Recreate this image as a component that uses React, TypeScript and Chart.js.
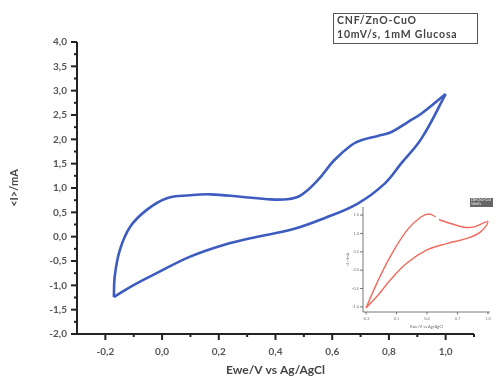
import React, { useEffect, useRef } from 'react';
import { Chart, registerables } from 'chart.js';
Chart.register(...registerables);

// ---- main cyclic voltammogram (blue) ----
const forwardE = [-0.17, -0.167, -0.149, -0.113, -0.054, 0.017, 0.099, 0.17, 0.277, 0.371, 0.442, 0.489, 0.549, 0.607, 0.667, 0.702, 0.761, 0.809, 0.868, 0.915, 1.0];
const forwardI = [-1.24, -0.82, -0.275, 0.2, 0.55, 0.79, 0.85, 0.87, 0.82, 0.77, 0.77, 0.85, 1.16, 1.57, 1.88, 1.98, 2.07, 2.15, 2.36, 2.53, 2.93];
const reverseE = [1.0, 0.915, 0.844, 0.785, 0.69, 0.572, 0.454, 0.336, 0.217, 0.099, -0.019, -0.102, -0.17];
const reverseI = [2.93, 2.02, 1.51, 1.09, 0.68, 0.38, 0.14, 0.0, -0.17, -0.41, -0.75, -1.0, -1.24];

const xTicks = [-0.2, 0.0, 0.2, 0.4, 0.6, 0.8, 1.0];
const xMinorTicks = [-0.1, 0.1, 0.3, 0.5, 0.7, 0.9, 1.1];
const yTicks = [-2.0, -1.5, -1.0, -0.5, 0.0, 0.5, 1.0, 1.5, 2.0, 2.5, 3.0, 3.5, 4.0];
const yMinorTicks = [-1.75, -1.25, -0.75, -0.25, 0.25, 0.75, 1.25, 1.75, 2.25, 2.75, 3.25, 3.75];

const legendLines = ['CNF/ZnO-CuO', '10mV/s, 1mM Glucosa'];
const xTitle = 'Ewe/V vs Ag/AgCl';
const yTitle = '<I>/mA';

// ---- inset (red) ----
const insetE = [-0.2, -0.094, 0.038, 0.204, 0.336, 0.418, 0.485, 0.5, 0.517, 0.633, 0.765, 0.864, 0.997, 0.93, 0.8, 0.6, 0.4, 0.2, 0.038, -0.094, -0.2];
const insetI = [-1.03, -0.36, 0.37, 1.09, 1.44, 1.53, 1.45, null, 1.38, 1.27, 1.17, 1.18, 1.32, 1.05, 0.87, 0.73, 0.55, 0.19, -0.27, -0.72, -1.03];
const insetXTicks = [-0.2, 0.1, 0.4, 0.7, 1.0];
const insetYTicks = [-1.0, -0.5, 0.0, 0.5, 1.0, 1.5];
const insetLegend = ['CNF/ZnO-CuO', '10mV/s'];

const FONT = 'Lato, "Open Sans", sans-serif';
const BLUE = '#3d5cc0';
const RED = '#f06a5c';

const toPts = (xs: number[], ys: (number | null)[]) => xs.map((x, i) => ({ x, y: ys[i] }));
const comma = (v: number) => v.toFixed(1).replace('.', ',');

const mainAxes = {
  id: 'mainAxes',
  afterDraw(chart: any) {
    const { ctx, chartArea: a, scales } = chart;
    const x = scales.x, y = scales.y;
    ctx.save();
    ctx.strokeStyle = '#222';
    ctx.lineWidth = 2;
    ctx.beginPath();
    ctx.moveTo(a.left, a.top);
    ctx.lineTo(a.left, a.bottom);
    ctx.lineTo(a.right, a.bottom);
    ctx.stroke();
    ctx.lineWidth = 2;
    const tk = (px: number, py: number, qx: number, qy: number) => {
      ctx.beginPath(); ctx.moveTo(px, py); ctx.lineTo(qx, qy); ctx.stroke();
    };
    yTicks.forEach(v => { const p = y.getPixelForValue(v); tk(a.left, p, a.left - 6, p); });
    yMinorTicks.forEach(v => { const p = y.getPixelForValue(v); tk(a.left, p, a.left - 3, p); });
    xTicks.forEach(v => { const p = x.getPixelForValue(v); tk(p, a.bottom, p, a.bottom + 6); });
    xMinorTicks.forEach(v => { const p = x.getPixelForValue(v); tk(p, a.bottom, p, a.bottom + 3); });
    // legend box
    ctx.lineWidth = 1;
    ctx.strokeStyle = '#555';
    ctx.strokeRect(333.5, 13.5, 144, 30);
    ctx.fillStyle = '#444';
    ctx.font = `bold 10.5px ${FONT}`;
    (ctx as any).letterSpacing = '0.8px';
    ctx.textBaseline = 'middle';
    ctx.textAlign = 'left';
    ctx.fillText(legendLines[0], 337, 21);
    ctx.fillText(legendLines[1], 337, 35);
    ctx.restore();
  },
};

const insetAxes = {
  id: 'insetAxes',
  afterDraw(chart: any) {
    const { ctx, chartArea: a, scales } = chart;
    const x = scales.x, y = scales.y;
    ctx.save();
    ctx.strokeStyle = '#555';
    ctx.lineWidth = 0.8;
    ctx.beginPath();
    ctx.moveTo(a.left, a.top);
    ctx.lineTo(a.left, a.bottom);
    ctx.lineTo(a.right, a.bottom);
    ctx.stroke();
    insetYTicks.forEach(v => { const p = y.getPixelForValue(v); ctx.beginPath(); ctx.moveTo(a.left, p); ctx.lineTo(a.left - 3, p); ctx.stroke(); });
    insetXTicks.forEach(v => { const p = x.getPixelForValue(v); ctx.beginPath(); ctx.moveTo(p, a.bottom); ctx.lineTo(p, a.bottom + 2.5); ctx.stroke(); });
    // legend chip
    ctx.fillStyle = '#666';
    ctx.fillRect(135, 3, 23, 9);
    ctx.fillStyle = '#fff';
    ctx.font = `3px ${FONT}`;
    ctx.textBaseline = 'middle';
    ctx.fillText(insetLegend[0], 136, 5.5);
    ctx.fillText(insetLegend[1], 136, 9.5);
    ctx.restore();
  },
};

export default function App() {
  const mainRef = useRef<HTMLCanvasElement>(null);
  const insetRef = useRef<HTMLCanvasElement>(null);

  useEffect(() => {
    const main = new Chart(mainRef.current!, {
      type: 'scatter',
      data: {
        datasets: [
          { data: toPts(forwardE, forwardI), showLine: true, borderColor: BLUE, borderWidth: 2.6, pointRadius: 0, tension: 0.4, fill: false },
          { data: toPts(reverseE, reverseI), showLine: true, borderColor: BLUE, borderWidth: 2.6, pointRadius: 0, tension: 0.4, fill: false },
        ],
      },
      options: {
        responsive: false,
        animation: false,
        layout: { padding: { left: 0, top: 42, right: 22, bottom: 0 } },
        plugins: { legend: { display: false }, tooltip: { enabled: false } },
        scales: {
          x: {
            type: 'linear', min: -0.3, max: 1.1,
            grid: { display: false, drawTicks: false },
            border: { display: false },
            afterBuildTicks: (s: any) => { s.ticks = xTicks.map(v => ({ value: v })); },
            afterFit: (s: any) => { s.height = 44; },
            ticks: { padding: 12, color: '#555', font: { family: FONT, size: 10, weight: 'bold' }, callback: (v: any) => comma(Number(v)), maxRotation: 0, autoSkip: false },
            title: { display: true, text: xTitle, color: '#444', font: { family: FONT, size: 12, weight: 'bold' }, padding: { top: 0, bottom: 1 } },
          },
          y: {
            type: 'linear', min: -2, max: 4,
            grid: { display: false, drawTicks: false },
            border: { display: false },
            afterBuildTicks: (s: any) => { s.ticks = yTicks.map(v => ({ value: v })); },
            afterFit: (s: any) => { s.width = 77; },
            ticks: { padding: 10, color: '#555', font: { family: FONT, size: 10, weight: 'bold' }, callback: (v: any) => comma(Number(v)), autoSkip: false },
            title: { display: true, text: yTitle, color: '#444', font: { family: FONT, size: 11, weight: 'bold' }, padding: { top: 8, bottom: 0 } },
          },
        },
      },
      plugins: [mainAxes],
    });

    const inset = new Chart(insetRef.current!, {
      type: 'scatter',
      data: {
        datasets: [
          { data: toPts(insetE, insetI), showLine: true, spanGaps: false, borderColor: RED, borderWidth: 1.4, pointRadius: 0, tension: 0.4, fill: false },
        ],
      },
      options: {
        responsive: false,
        animation: false,
        layout: { padding: { left: 0, top: 12, right: 6, bottom: 0 } },
        plugins: { legend: { display: false }, tooltip: { enabled: false } },
        scales: {
          x: {
            type: 'linear', min: -0.23, max: 1.02,
            grid: { display: false, drawTicks: false },
            border: { display: false },
            afterBuildTicks: (s: any) => { s.ticks = insetXTicks.map(v => ({ value: v })); },
            afterFit: (s: any) => { s.height = 23; },
            ticks: { padding: 4, color: '#777', font: { family: FONT, size: 4 }, callback: (v: any) => Number(v).toFixed(1), maxRotation: 0, autoSkip: false },
            title: { display: true, text: xTitle, color: '#666', font: { family: FONT, size: 4 }, padding: { top: 0, bottom: 6 } },
          },
          y: {
            type: 'linear', min: -1.14, max: 1.72,
            grid: { display: false, drawTicks: false },
            border: { display: false },
            afterBuildTicks: (s: any) => { s.ticks = insetYTicks.map(v => ({ value: v })); },
            afterFit: (s: any) => { s.width = 28; },
            ticks: { padding: 4, color: '#777', font: { family: FONT, size: 4 }, callback: (v: any) => Number(v).toFixed(1), autoSkip: false },
            title: { display: true, text: yTitle, color: '#666', font: { family: FONT, size: 4 }, padding: { top: 10, bottom: 0 } },
          },
        },
      },
      plugins: [insetAxes],
    });

    return () => { main.destroy(); inset.destroy(); };
  }, []);

  return (
    <div style={{ position: 'fixed', left: 0, top: 0, width: 496, height: 378, background: '#fff' }}>
      <canvas ref={mainRef} width={496} height={378} style={{ position: 'absolute', left: 0, top: 0 }} />
      <canvas ref={insetRef} width={161} height={140} style={{ position: 'absolute', left: 335, top: 195 }} />
    </div>
  );
}
